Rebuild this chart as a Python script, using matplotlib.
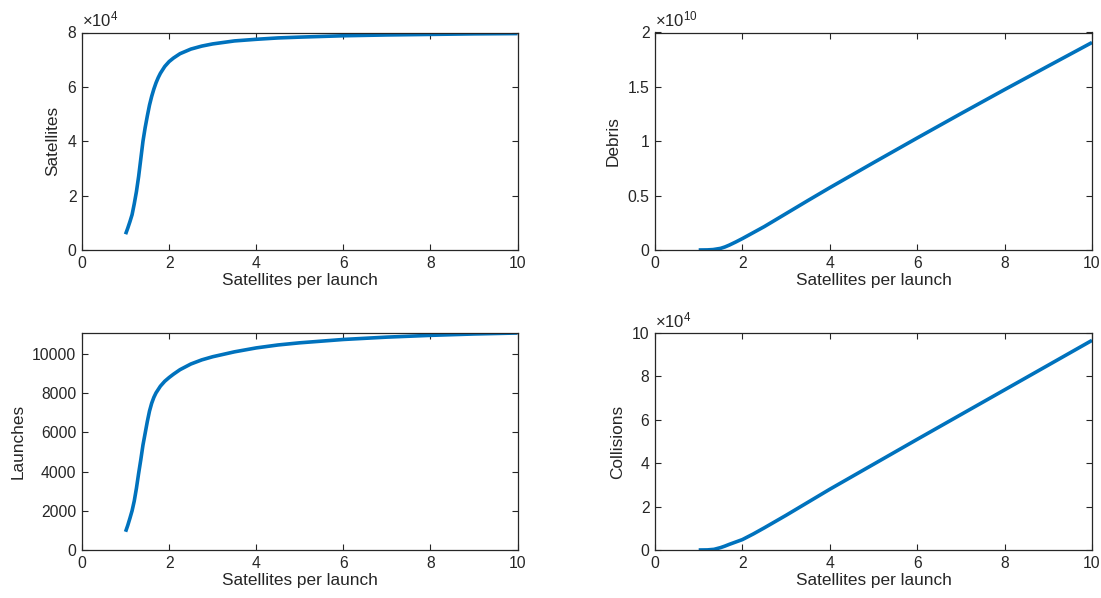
import matplotlib
matplotlib.use("Agg")
import matplotlib.pyplot as plt
from matplotlib.ticker import FuncFormatter, MultipleLocator

plt.rcParams['font.family'] = ['Liberation Sans', 'DejaVu Sans']
plt.rcParams['mathtext.fontset'] = 'custom'
plt.rcParams['mathtext.rm'] = 'Liberation Sans'
plt.rcParams['mathtext.default'] = 'regular'

# --- data ---
x_sat = [1.0, 1.05, 1.1, 1.15, 1.2, 1.25, 1.3, 1.35, 1.4, 1.45, 1.5, 1.55, 1.6, 1.65,
         1.7, 1.75, 1.8, 1.9, 2.0, 2.1, 2.25, 2.5, 2.75, 3.0, 3.5, 4.0, 4.5, 5.0,
         6.0, 7.0, 8.0, 9.0, 10.0]
satellites = [5800, 8000, 10400, 13000, 17000, 21500, 27000, 33500, 40000, 45000,
              49300, 53300, 56500, 59200, 61500, 63400, 65000, 67500, 69300, 70600,
              72200, 73900, 75000, 75800, 76900, 77500, 78000, 78300, 78800, 79100,
              79300, 79500, 79600]

x_launch = [1.0, 1.05, 1.1, 1.15, 1.2, 1.25, 1.3, 1.35, 1.4, 1.45, 1.5, 1.55, 1.6,
            1.65, 1.7, 1.8, 1.9, 2.0, 2.1, 2.25, 2.5, 2.75, 3.0, 3.5, 4.0, 4.5, 5.0,
            6.0, 7.0, 8.0, 9.0, 10.0]
launches = [930, 1250, 1615, 2000, 2500, 3150, 3900, 4600, 5350, 5950, 6550, 7080,
            7480, 7780, 8010, 8350, 8600, 8790, 8960, 9190, 9480, 9690, 9850, 10100,
            10300, 10450, 10560, 10730, 10850, 10940, 11010, 11060]

x_deb = [1.0, 1.2, 1.33, 1.5, 1.6, 1.7, 1.85, 2.0, 2.25, 2.5, 3.0, 3.5, 4.0, 5.0,
         6.0, 7.0, 8.0, 9.0, 10.0]
debris = [0.0, 0.001e10, 0.004e10, 0.015e10, 0.028e10, 0.045e10, 0.074e10, 0.105e10,
          0.16e10, 0.215e10, 0.335e10, 0.455e10, 0.573e10, 0.803e10, 1.03e10,
          1.254e10, 1.475e10, 1.692e10, 1.908e10]

x_col = [1.0, 1.2, 1.35, 1.5, 1.6, 1.7, 1.85, 2.0, 2.25, 2.5, 3.0, 3.5, 4.0, 5.0,
         6.0, 7.0, 8.0, 9.0, 10.0]
collisions = [0.0, 50, 300, 1100, 1800, 2600, 3700, 4800, 7400, 10200, 16000, 22000,
              28000, 39500, 51000, 62400, 73800, 85200, 96600]

x_label = "Satellites per launch"
line_color = "#0072BD"
ax_color = "#262626"

W, H = 1101, 598
fig = plt.figure(figsize=(W / 100, H / 100), dpi=100)

def pos(x0, x1, y0, y1):
    return [x0 / W, 1 - y1 / H, (x1 - x0) / W, (y1 - y0) / H]

panels = [
    (pos(82, 517.5, 32.5, 250), x_sat, satellites, "Satellites", (0, 80000), 20000, 1e4, r"$\times10^{4}$"),
    (pos(655, 1092, 32.5, 250), x_deb, debris, "Debris", (0, 2e10), 0.5e10, 1e10, r"$\times10^{10}$"),
    (pos(82, 517.5, 333, 550), x_launch, launches, "Launches", (0, 11060), 2000, 1, None),
    (pos(655, 1092, 333, 550), x_col, collisions, "Collisions", (0, 100000), 20000, 1e4, r"$\times10^{4}$"),
]

for rect, xs, ys, ylab, ylim, ystep, scale, offs in panels:
    ax = fig.add_axes(rect)
    ax.plot(xs, ys, color=line_color, lw=2.6, solid_capstyle='butt',
            solid_joinstyle='round')
    ax.set_xlim(0, 10)
    ax.set_ylim(*ylim)
    ax.xaxis.set_major_locator(MultipleLocator(2))
    ax.yaxis.set_major_locator(MultipleLocator(ystep))
    ax.yaxis.set_major_formatter(FuncFormatter(lambda v, p, s=scale: f"{v / s:g}"))
    ax.tick_params(direction='in', top=True, right=True, length=4.5, width=0.8,
                   labelsize=11.3, colors=ax_color, pad=4)
    for sp in ax.spines.values():
        sp.set_color(ax_color)
        sp.set_linewidth(0.9)
    ax.set_xlabel(x_label, fontsize=12.4, color=ax_color, labelpad=2)
    ax.set_ylabel(ylab, fontsize=12.4, color=ax_color, labelpad=5)
    if offs:
        ax.text(0.0, 1.012, offs, transform=ax.transAxes, ha='left', va='bottom',
                fontsize=12, color=ax_color)

fig.savefig("out.png", dpi=100)
